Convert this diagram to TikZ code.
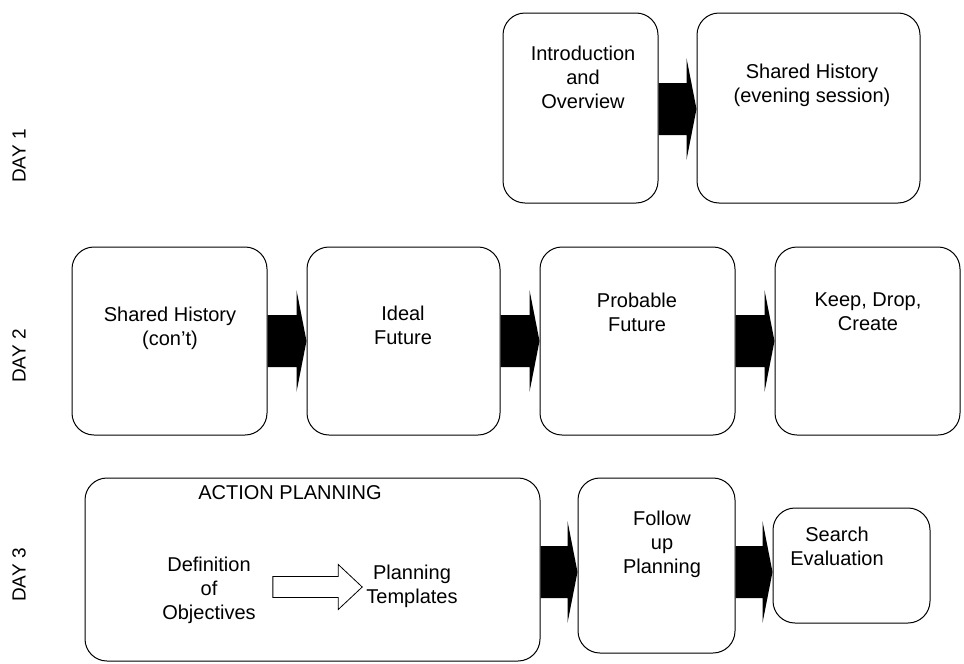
\documentclass[tikz,border=0pt]{standalone}
\usepackage{fontspec}
\setmainfont{Liberation Sans}
\usetikzlibrary{calc}
\tikzset{
  box/.style={draw, rounded corners=22pt, line width=1pt, inner sep=0pt},
  txt/.style={align=center, inner sep=0pt, font=\fontsize{20}{24}\selectfont},
  daylabel/.style={rotate=90, inner sep=0pt, font=\fontsize{19}{22}\selectfont},
}
% black block arrow: start box, end box, vertical shift of the shaft
\newcommand{\blockarrow}[3]{%
  \fill let \p1=($(#1.east)+(0,#3)$), \p2=(#2.west) in
    (\x1,\y1+26pt) -- (\x2-10pt,\y1+26pt) -- (\x2-10pt,\y1+51pt) -- (\x2,\y1)
    -- (\x2-10pt,\y1-51pt) -- (\x2-10pt,\y1-26pt) -- (\x1,\y1-26pt) -- cycle;}
\begin{document}
\begin{tikzpicture}[x=1pt,y=-1pt]
    \useasboundingbox (0,0) rectangle (964,664);
    % day labels
    \node[daylabel] (day1) at (19,156) {DAY 1};
    \node[daylabel] (day2) at (19,356) {DAY 2};
    \node[daylabel] (day3) at (19,575) {DAY 3};
    % day 1
    \node[box, minimum width=155pt, minimum height=190pt] (intro) at (580.5,108) {};
    \node[box, minimum width=223pt, minimum height=190pt] (history) at (808.5,108) {};
    \node[txt] (introtxt) at (583,77) {Introduction\\and\\Overview};
    \node[txt] (historytxt) at (812,85) {Shared History\\(evening session)};
    \blockarrow{intro}{history}{1}
    % day 2
    \node[box, minimum width=195pt, minimum height=188pt] (shared) at (169.5,341) {};
    \node[box, minimum width=193pt, minimum height=188pt] (ideal) at (403.5,341) {};
    \node[box, minimum width=195pt, minimum height=188pt] (probable) at (637.5,341) {};
    \node[box, minimum width=185pt, minimum height=188pt] (keep) at (867.5,341) {};
    \node[txt] (sharedtxt) at (170,328) {Shared History\\(con't)};
    \node[txt] (idealtxt) at (403,325) {Ideal\\Future};
    \node[txt] (probabletxt) at (637,312) {Probable\\Future};
    \node[txt] (keeptxt) at (868,312) {Keep, Drop,\\Create};
    \blockarrow{shared}{ideal}{0}
    \blockarrow{ideal}{probable}{0}
    \blockarrow{probable}{keep}{0}
    % day 3
    \node[box, minimum width=455pt, minimum height=183pt] (action) at (312.5,569.5) {};
    \node[box, minimum width=157pt, minimum height=175pt] (follow) at (656.5,565.5) {};
    \node[box, minimum width=157pt, minimum height=115pt] (search) at (851.5,565.5) {};
    \node[txt] (actiontxt) at (290,493) {ACTION PLANNING};
    \node[txt] (defn) at (209,590) {Definition\\of\\Objectives};
    \node[txt] (plan) at (412,586) {Planning\\Templates};
    \node[txt] (followtxt) at (662,544) {Follow\\up\\Planning};
    \node[txt] (searchtxt) at (837,546) {Search\\Evaluation};
    \path (defn.east) ++(17,-3) coordinate (otail);
    \path (plan.west) ++(-4,0) coordinate (ohead);
    \draw[line width=0.8pt] let \p1=(otail), \p2=(ohead) in
      (\x1,\y1+10.5pt) -- (\x2-24pt,\y1+10.5pt) -- (\x2-24pt,\y1+22.5pt) -- (\x2,\y1)
      -- (\x2-24pt,\y1-22.5pt) -- (\x2-24pt,\y1-10.5pt) -- (\x1,\y1-10.5pt) -- cycle;
    \blockarrow{action}{follow}{2.5}
    \blockarrow{follow}{search}{6.5}
\end{tikzpicture}
\end{document}
